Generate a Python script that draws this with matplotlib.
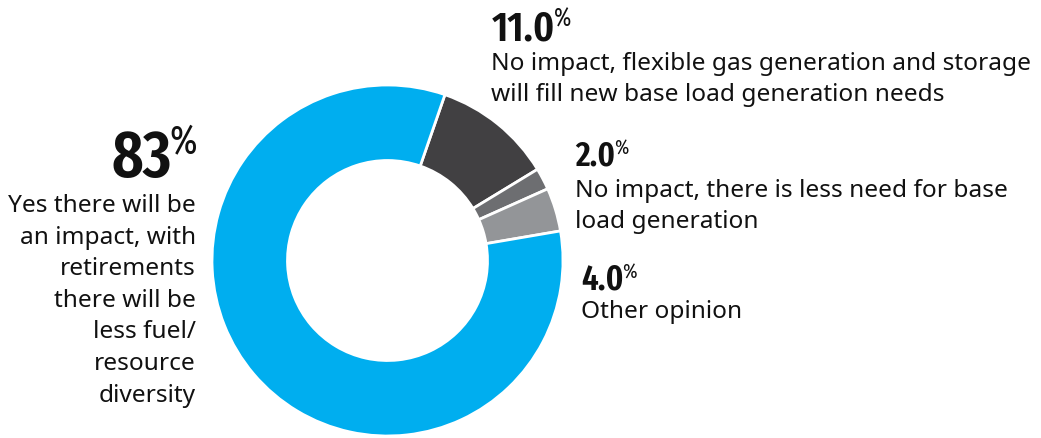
import os
import matplotlib
matplotlib.use("Agg")
import matplotlib.pyplot as plt
from matplotlib import font_manager as fm
from matplotlib.font_manager import FontProperties

# ---- data ----
categories = [
    "No impact, flexible gas generation and storage\nwill fill new base load generation needs",
    "No impact, there is less need for base\nload generation",
    "Other opinion",
    "Yes there will be\nan impact, with\nretirements\nthere will be\nless fuel/\nresource\ndiversity",
]
values = [11.0, 2.0, 4.0, 83.0]
value_labels = ["11.0", "2.0", "4.0", "83"]
colors = ["#414042", "#6d6e71", "#939598", "#00aeef"]


def _weight(f):
    w = f.weight
    if isinstance(w, str):
        w = fm.weight_dict.get(w, 400)
    return w


def find_condensed(target_weight):
    best, best_score = None, None
    for f in fm.fontManager.ttflist:
        key = (f.name + " " + os.path.basename(f.fname)).lower()
        k2 = key.replace(" ", "").replace("-", "")
        if "mono" in k2 or "serif" in k2 or "italic" in k2 or "oblique" in k2:
            continue
        if f.style != "normal" or "cjk" in k2:
            continue
        if "extracondensed" in k2 or "ultracondensed" in k2:
            s = 4
        elif "semicondensed" in k2:
            s = 1
        elif "condensed" in k2 or f.stretch in ("condensed",):
            s = 3
        elif "narrow" in k2:
            s = 2
        else:
            continue
        score = s * 1000 - abs(_weight(f) - target_weight)
        if best_score is None or score > best_score:
            best, best_score = f, score
    return best


fb = find_condensed(600)
fr = find_condensed(400)


def num_fp(size, bold=True):
    f = fb if bold else fr
    if f is None:
        return FontProperties(family="DejaVu Sans", weight="bold" if bold else "normal", size=size)
    return FontProperties(fname=f.fname, size=size)


W, H = 1041, 439
fig = plt.figure(figsize=(W / 100, H / 100), dpi=100)
ax = fig.add_axes([0, 0, 1, 1])

cx, cy, R = 387.5, H - 261.5, 175.5
ax.pie(values, colors=colors, startangle=70.9, counterclock=False,
       center=(cx, cy), radius=R,
       wedgeprops=dict(width=75.5, edgecolor="white", linewidth=2))
ax.set_xlim(0, W)
ax.set_ylim(0, H)
ax.set_aspect("equal")
ax.axis("off")

BODY_FONT = ["Noto Sans", "DejaVu Sans"]
TXT = "#111111"
DIGIT_RATIO = 0.73  # digit height / em for the condensed face

fig.canvas.draw()
renderer = fig.canvas.get_renderer()


def number(x, ybase, label, digit_h, ha="left", pct_h_ratio=0.59, pct_raise=1.0):
    size = digit_h / DIGIT_RATIO * 72 / 100
    t = ax.text(x, H - ybase, label, fontproperties=num_fp(size, True),
                ha=ha, va="baseline", color=TXT)
    bb = t.get_window_extent(renderer)
    pct_h = digit_h * pct_h_ratio
    psize = pct_h / DIGIT_RATIO * 72 / 100
    top = ybase - digit_h - pct_raise
    ax.text(bb.x1 - size * 100 / 72 * 0.04, H - (top + pct_h), "%",
            fontproperties=num_fp(psize, False),
            ha="left", va="baseline", color=TXT)


def body(x, ybase, text, ha="left", step=31.6, size=17.6):
    for i, line in enumerate(text.split("\n")):
        ax.text(x, H - (ybase + i * step), line, fontsize=size, family=BODY_FONT,
                ha=ha, va="baseline", color=TXT)


# 83% block (left, right-aligned)
number(172, 176.7, value_labels[3], 48.4, ha="right", pct_h_ratio=0.6, pct_raise=2.6)
body(196, 212, categories[3], ha="right", step=31.6)

# 11.0%
number(492, 40, value_labels[0], 31)
body(491, 70, categories[0], step=31.3)

# 2.0%
number(575, 165.5, value_labels[1], 25.5)
body(575, 197, categories[1], step=31.5)

# 4.0%
number(581, 289.3, value_labels[2], 26)
body(581, 318.3, categories[2])

fig.savefig("out.png", dpi=100)
